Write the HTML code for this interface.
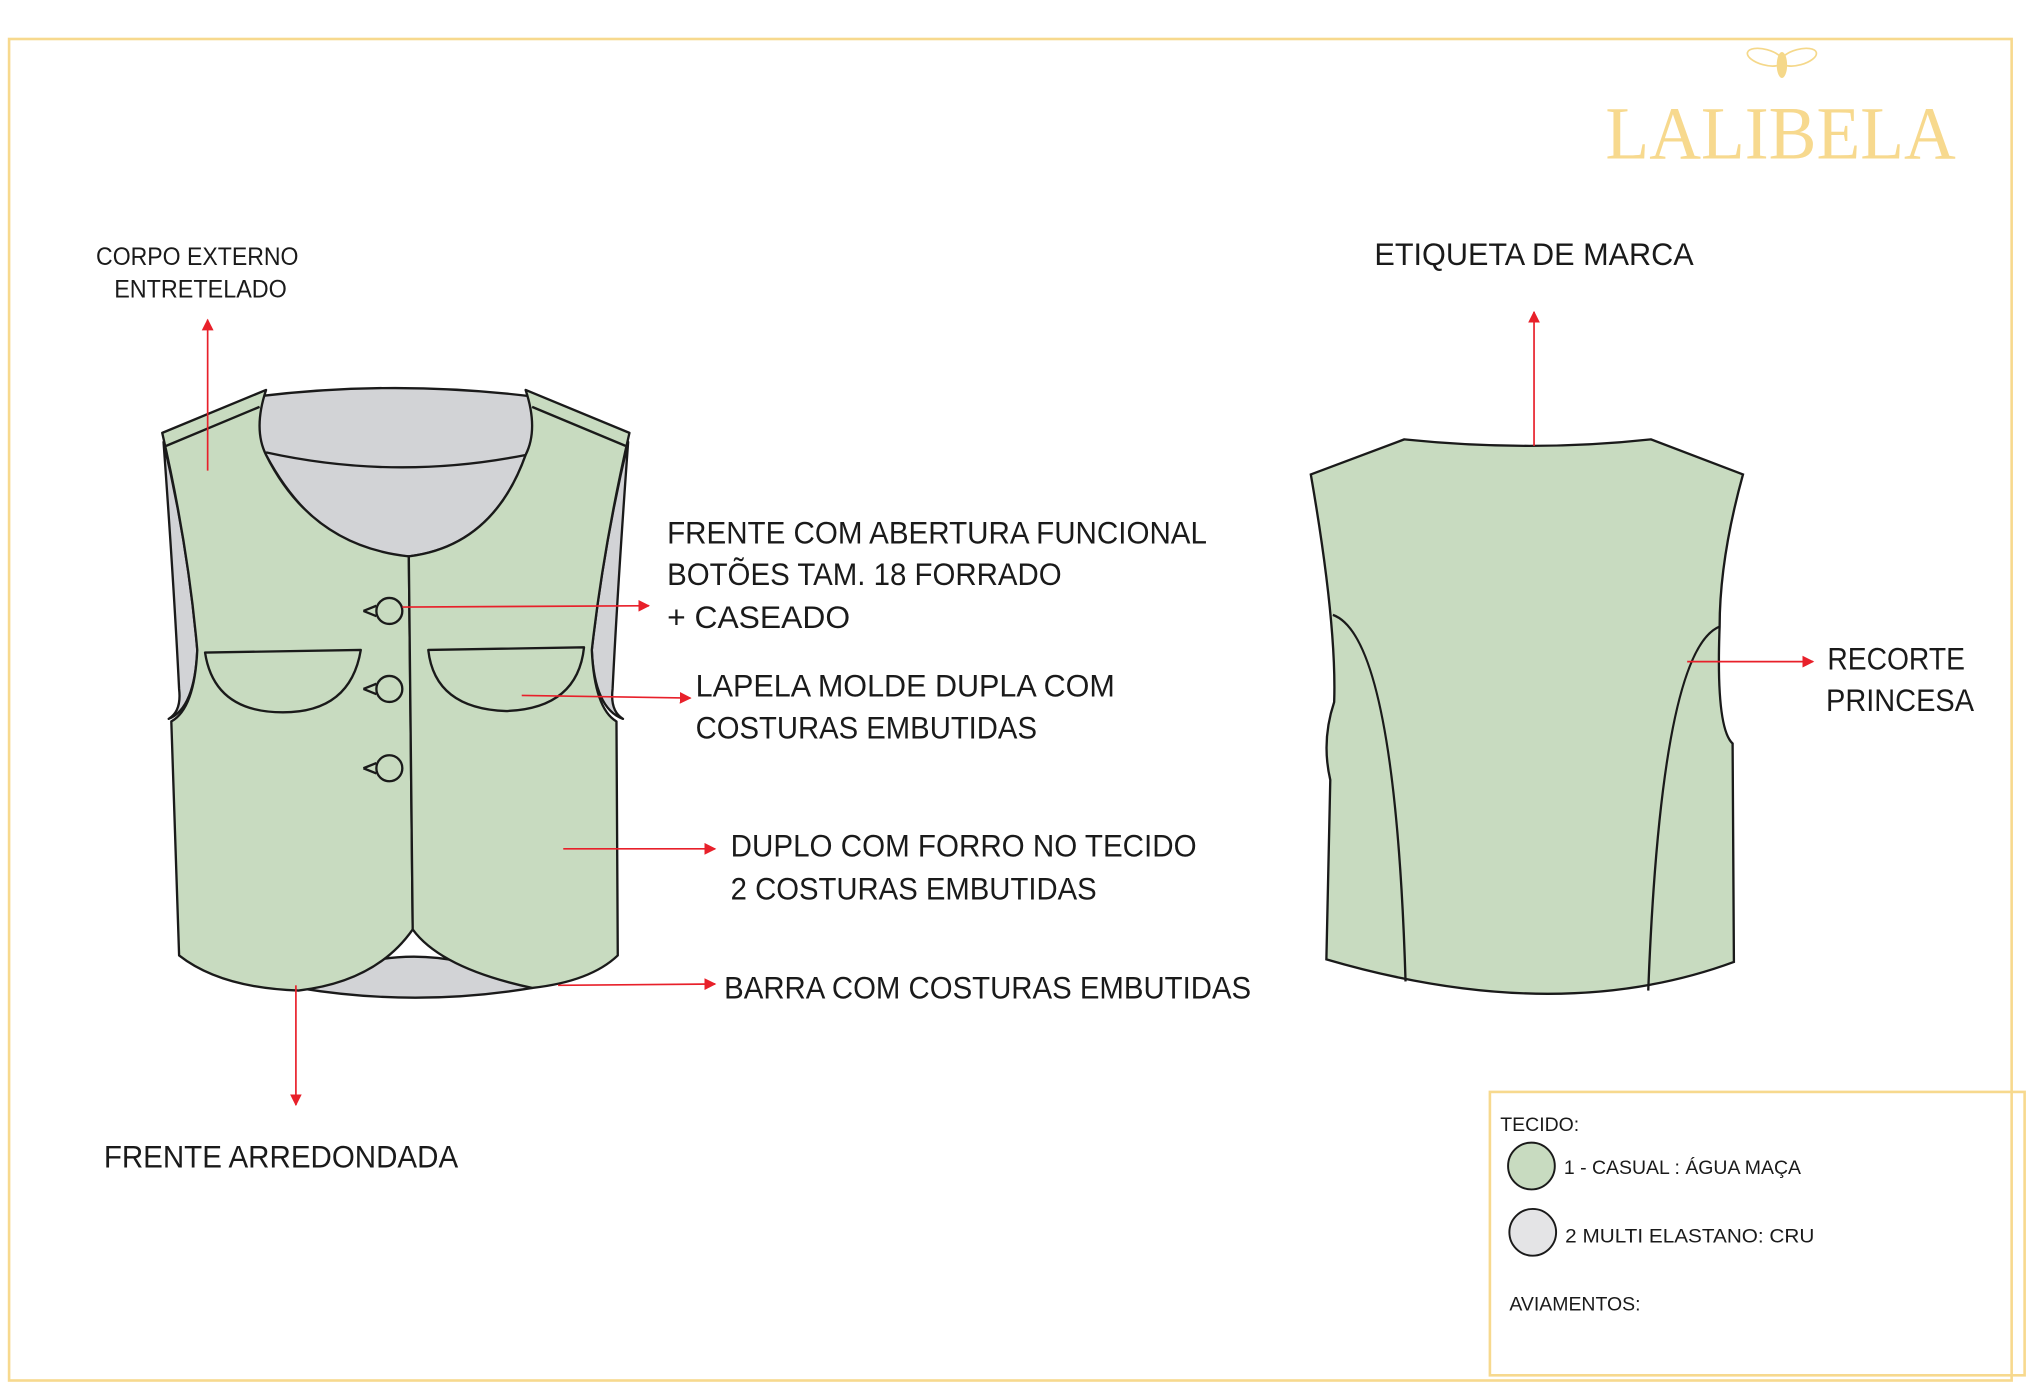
<!DOCTYPE html>
<html><head><meta charset="utf-8"><style>
html,body{margin:0;padding:0;background:#fff;}
svg{display:block;}
text{font-family:"Liberation Sans",sans-serif;fill:#1a1a1a;}
</style></head><body>
<svg width="2035" height="1400" viewBox="0 0 1568 1077" preserveAspectRatio="none" xmlns="http://www.w3.org/2000/svg">
<defs>
<marker id="ar" viewBox="0 0 10 10" refX="9" refY="5" markerWidth="7" markerHeight="7" orient="auto"><path d="M0,0 L10,5 L0,10 Z" fill="#e8202a"/></marker>
</defs>
<rect x="7" y="30" width="1543" height="1032" fill="none" stroke="#f7d98e" stroke-width="2"/>
<rect x="1148" y="840" width="412" height="218" fill="none" stroke="#f7d98e" stroke-width="2"/>

<!-- logo -->
<g fill="none" stroke="#f5d88a" stroke-width="1.3">
<ellipse cx="1360" cy="44" rx="14" ry="6" transform="rotate(15 1360 44)"/>
<ellipse cx="1386" cy="44" rx="14" ry="6" transform="rotate(-15 1386 44)"/>
</g>
<ellipse cx="1373" cy="50" rx="4" ry="10" fill="#f5d88a"/>
<text x="1237" y="122" style="font-family:'Liberation Serif',serif;fill:#f7d98e;font-size:58px" textLength="270" lengthAdjust="spacingAndGlyphs">LALIBELA</text>

<!-- front vest -->
<g stroke="#1a1a1a" stroke-width="1.8" stroke-linejoin="round">
<path d="M198,305 Q305,292 410,305 Q415,330 405,350 Q380,420 315,428 Q245,425 205,350 Q195,330 198,305 Z" fill="#d2d3d6"/>
<path d="M205,348 Q305,370 405,350" fill="none"/>
<path d="M126,340 Q134,450 138,530 Q140,547 130,553 Q150,545 152,500 Q145,420 126,340 Z" fill="#d2d3d6"/>
<path d="M484,340 Q476,450 472,530 Q470,547 480,553 Q458,545 456,500 Q465,420 484,340 Z" fill="#d2d3d6"/>
<path d="M230,760 Q318,712 410,760 Q320,775 230,760 Z" fill="#d2d3d6"/>
<path d="M125,333 L205,300 Q195,330 205,350 Q240,420 315,428 L318,715 Q290,755 230,762 Q170,760 138,735 L132,555 Q150,545 152,500 Q145,420 125,333 Z" fill="#c8dbc0"/>
<path d="M485,333 L405,300 Q415,330 405,350 Q380,420 315,428 L318,715 Q340,745 410,760 Q455,755 476,735 L475,555 Q458,545 456,500 Q465,420 485,333 Z" fill="#c8dbc0"/>
<path d="M128,343 L200,313 M482,343 L410,313" fill="none"/>
<path d="M158,502 L278,500 Q270,548 218,548 Q165,548 158,502 Z" fill="#c8dbc0"/>
<path d="M330,500 L450,498 Q445,545 390,547 Q335,545 330,500 Z" fill="#c8dbc0"/>
<circle cx="300" cy="470" r="10" fill="#c8dbc0"/>
<circle cx="300" cy="530" r="10" fill="#c8dbc0"/>
<circle cx="300" cy="591" r="10" fill="#c8dbc0"/>
<path d="M280,470 L290,466 M280,470 L290,474 M280,530 L290,526 M280,530 L290,534 M280,591 L290,587 M280,591 L290,595" fill="none"/>
</g>

<!-- back vest -->
<g stroke="#1a1a1a" stroke-width="1.8" fill="none">
<path d="M1010,365 L1082,338 Q1180,348 1272,338 L1343,365 Q1325,430 1325,482 Q1322,560 1335,572 L1336,740 Q1200,790 1022,738 L1025,600 Q1018,570 1028,540 Q1030,480 1010,365 Z" fill="#c8dbc0"/>
<path d="M1027,473 Q1075,490 1083,755"/>
<path d="M1325,482 Q1280,500 1270,762"/>
</g>

<!-- arrows -->
<g stroke="#e8202a" stroke-width="1.3" fill="none" marker-end="url(#ar)">
<path d="M160,362 L160,246"/>
<path d="M310,467 L500,466"/>
<path d="M402,535 L532,537"/>
<path d="M434,653 L551,653"/>
<path d="M430,758 L551,757"/>
<path d="M228,758 L228,850"/>
<path d="M1182,343 L1182,240"/>
<path d="M1300,509 L1397,509"/>
</g>

<!-- labels -->
<g font-size="19">
<text x="74" y="204" textLength="156" lengthAdjust="spacingAndGlyphs">CORPO EXTERNO</text>
<text x="88" y="229" textLength="133" lengthAdjust="spacingAndGlyphs">ENTRETELADO</text>
</g>
<g font-size="24">
<text x="514" y="418" textLength="416" lengthAdjust="spacingAndGlyphs">FRENTE COM ABERTURA FUNCIONAL</text>
<text x="514" y="450" textLength="304" lengthAdjust="spacingAndGlyphs">BOTÕES TAM. 18 FORRADO</text>
<text x="514" y="483" textLength="141" lengthAdjust="spacingAndGlyphs">+  CASEADO</text>
<text x="536" y="536" textLength="323" lengthAdjust="spacingAndGlyphs">LAPELA MOLDE DUPLA COM</text>
<text x="536" y="568" textLength="263" lengthAdjust="spacingAndGlyphs">COSTURAS EMBUTIDAS</text>
<text x="563" y="659" textLength="359" lengthAdjust="spacingAndGlyphs">DUPLO COM FORRO NO TECIDO</text>
<text x="563" y="692" textLength="282" lengthAdjust="spacingAndGlyphs">2 COSTURAS EMBUTIDAS</text>
<text x="558" y="768" textLength="406" lengthAdjust="spacingAndGlyphs">BARRA COM COSTURAS EMBUTIDAS</text>
<text x="80" y="898" textLength="273" lengthAdjust="spacingAndGlyphs">FRENTE ARREDONDADA</text>
<text x="1059" y="204" textLength="246" lengthAdjust="spacingAndGlyphs">ETIQUETA DE MARCA</text>
<text x="1408" y="515" textLength="106" lengthAdjust="spacingAndGlyphs">RECORTE</text>
<text x="1407" y="547" textLength="114" lengthAdjust="spacingAndGlyphs">PRINCESA</text>
</g>

<!-- legend -->
<g font-size="15">
<text x="1156" y="870">TECIDO:</text>
<circle cx="1180" cy="897" r="18" fill="#c8dbc0" stroke="#1a1a1a" stroke-width="1.5"/>
<text x="1205" y="903">1 - CASUAL : ÁGUA MAÇA</text>
<circle cx="1181" cy="948" r="18" fill="#e4e4e6" stroke="#1a1a1a" stroke-width="1.5"/>
<text x="1206" y="956" textLength="192" lengthAdjust="spacingAndGlyphs">2  MULTI ELASTANO: CRU</text>
<text x="1163" y="1008">AVIAMENTOS:</text>
</g>
</svg>
</body></html>
